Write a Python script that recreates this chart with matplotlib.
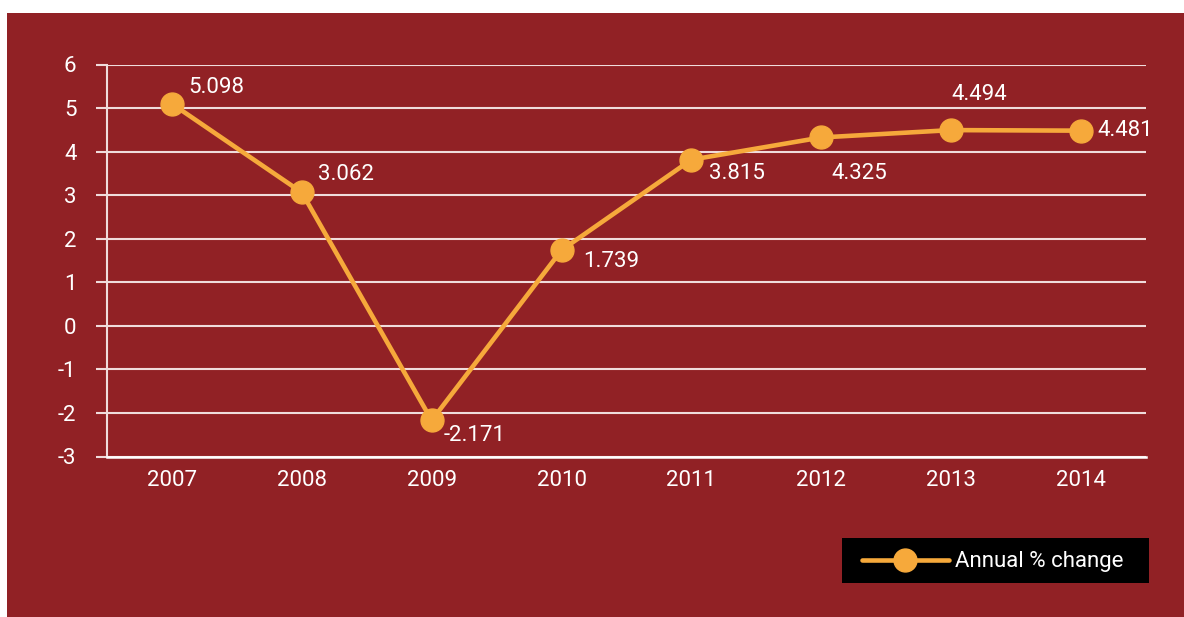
import matplotlib
matplotlib.use("Agg")
import matplotlib.pyplot as plt
from matplotlib.patches import Rectangle

years = ["2007", "2008", "2009", "2010", "2011", "2012", "2013", "2014"]
growth = [5.098, 3.062, -2.171, 1.739, 3.815, 4.325, 4.494, 4.481]
# label offsets (pixels) relative to each point
label_offsets = [(16, 16), (16, 18), (12, -15), (22, -11), (18, -14), (10, -36), (0, 36), (16, 0)]
yticks = [-3, -2, -1, 0, 1, 2, 3, 4, 5, 6]

BG = "#912125"
ORANGE = "#F6A93B"
plt.rcParams["font.family"] = ["Roboto", "DejaVu Sans"]

W, H = 1184, 617
fig = plt.figure(figsize=(W / 100, H / 100), dpi=100, facecolor="white")


def px_rect(x0, y0, x1, y1, **kw):
    """Rectangle given in pixel coordinates measured from the top-left."""
    return Rectangle((x0 / W, 1 - y1 / H), (x1 - x0) / W, (y1 - y0) / H,
                     transform=fig.transFigure, edgecolor="none",
                     antialiased=False, **kw)


fig.patches.append(px_rect(7, 13, W, H, facecolor=BG, zorder=-10))
fig.patches.append(px_rect(842, 538, 1149, 583, facecolor="black", zorder=-5))

left, right = 107 / W, 1146 / W
top, bottom = (H - 64.5) / H, (H - 456.5) / H
ax = fig.add_axes([left, bottom, right - left, top - bottom])
ax.set_facecolor("none")

x = list(range(len(years)))
line, = ax.plot(x, growth, color=ORANGE, lw=3.3, marker="o", ms=16.5,
                markerfacecolor=ORANGE, markeredgecolor=ORANGE,
                solid_capstyle="round", zorder=5, label="Annual % change")

for xi, v, off in zip(x, growth, label_offsets):
    ax.annotate(f"{v:.3f}", (xi, v), xytext=off, textcoords="offset pixels",
                ha="left", va="center", color="white", fontsize=16, zorder=6)

ax.set_xlim(-0.5, len(years) - 0.5)
ax.set_ylim(-3, 6)
ax.set_yticks(yticks)
ax.set_yticklabels([str(t) for t in yticks])
ax.set_xticks(x)
ax.set_xticklabels(years)

ax.grid(axis="y", color="#f0dcdc", lw=1.5)
ax.set_axisbelow(True)
for s in ["top", "right"]:
    ax.spines[s].set_visible(False)
ax.spines["left"].set_color("#f0dcdc")
ax.spines["left"].set_linewidth(1.5)
ax.spines["bottom"].set_color("white")
ax.spines["bottom"].set_linewidth(1.8)

ax.tick_params(axis="y", length=8, width=1.5, color="#f0dcdc", pad=14,
               labelcolor="white", labelsize=16)
ax.tick_params(axis="x", length=0, pad=10, labelcolor="white", labelsize=16)

leg = ax.legend(handles=[line], loc="center left",
                bbox_to_anchor=(862 / W, 1 - 562 / H),
                bbox_transform=fig.transFigure, frameon=False,
                fontsize=16, handlelength=3.9, handletextpad=0.3,
                borderpad=0, borderaxespad=0)
for t in leg.get_texts():
    t.set_color("white")

fig.savefig("out.png", dpi=100, facecolor=fig.get_facecolor())
